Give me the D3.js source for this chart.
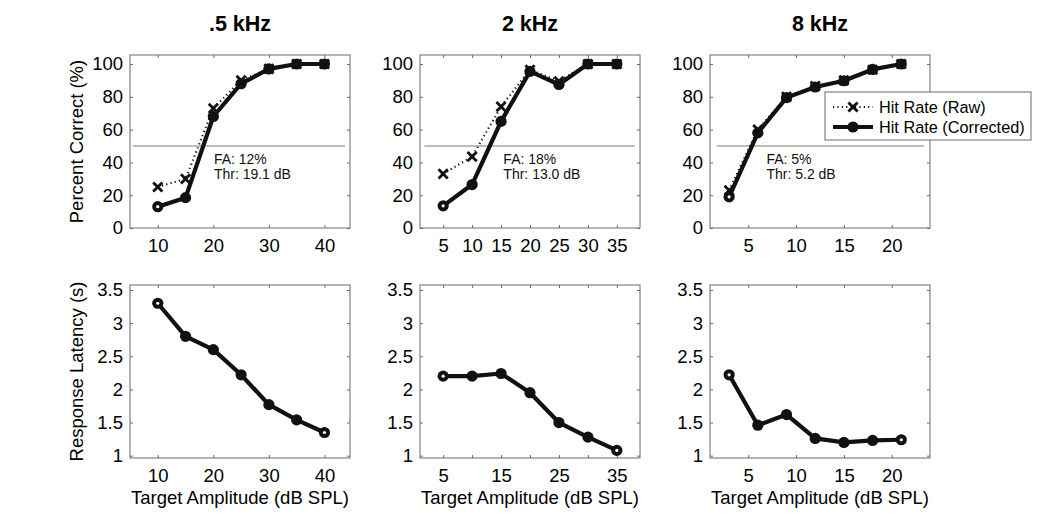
<!DOCTYPE html>
<html><head><meta charset="utf-8">
<script src="https://cdn.jsdelivr.net/npm/d3@7"></script>
<style>
html,body{margin:0;padding:0;background:#fff;}
svg{display:block;font-family:"Liberation Sans",Arial,Helvetica,sans-serif;}
</style></head>
<body><svg id="chart" width="1050" height="524"></svg>
<script>
// ---- data ----
const panelTitles = [".5 kHz", "2 kHz", "8 kHz"];
const amps05 = [10, 15, 20, 25, 30, 35, 40];
const amps2  = [5, 10, 15, 20, 25, 30, 35];
const amps8  = [3, 6, 9, 12, 15, 18, 21];
const rawHit05 = [25, 30, 73, 90, 97, 100, 100];
const corHit05 = [13, 18.5, 68, 88, 97, 100, 100];
const rawHit2  = [33, 43.5, 74, 96.5, 89.5, 100, 100];
const corHit2  = [13.5, 26.5, 65, 95.5, 87.5, 100, 100];
const rawHit8  = [23, 60, 80, 86.5, 90, 96.5, 100];
const corHit8  = [19, 58, 79.5, 86, 89.8, 96.7, 100];
const latency05 = [3.3, 2.8, 2.6, 2.22, 1.77, 1.54, 1.35];
const latency2  = [2.2, 2.2, 2.24, 1.95, 1.5, 1.28, 1.08];
const latency8  = [2.22, 1.46, 1.62, 1.26, 1.2, 1.23, 1.24];
const faText  = ["FA: 12%", "FA: 18%", "FA: 5%"];
const thrText = ["Thr: 19.1 dB", "Thr: 13.0 dB", "Thr: 5.2 dB"];
const xDomains = [[5, 44.6], [1, 39], [1, 24]];
const xTicks05 = [10, 20, 30, 40];
const xTicks2 = [5, 10, 15, 20, 25, 30, 35];
const xTicks2Bottom = [5, 15, 25, 35];
const xTicks8 = [5, 10, 15, 20];
const pctTicks = [0, 20, 40, 60, 80, 100];
const latTicks = [1, 1.5, 2, 2.5, 3, 3.5];
const annX = [20.1, 15.4, 6.9];
const annY = [39, 30];
const halfLineX = [[5.5, 43.7], [1.75, 38.1], [1.7, 23.4]];
const halfLineY = 50;
const legendLabels = ["Hit Rate (Raw)", "Hit Rate (Corrected)"];
const yLabels = ["Percent Correct (%)", "Response Latency (s)"];
const xLabel = "Target Amplitude (dB SPL)";

// ---- layout ----
const svg = d3.select("#chart");
const panelLeft = [130, 420, 710];
const panelW = 220;
const topRow = {y: 55, h: 173};
const botRow = {y: 285, h: 173};
const amps = [amps05, amps2, amps8];
const raws = [rawHit05, rawHit2, rawHit8];
const cors = [corHit05, corHit2, corHit8];
const lats = [latency05, latency2, latency8];
const xTickSetsTop = [xTicks05, xTicks2, xTicks8];
const xTickSetsAll = [xTicks05, xTicks2, xTicks8];
const xTickLabelsBottom = [xTicks05, xTicks2Bottom, xTicks8];

const boxColor = "#6a6a6a";
const fontTick = 18.5;

function drawPanel(i, row, yDomain, yTicks, series, xTickLabelSet, isTop) {
  const x = d3.scaleLinear().domain(xDomains[i]).range([panelLeft[i], panelLeft[i] + panelW]);
  const y = d3.scaleLinear().domain(yDomain).range([row.y + row.h, row.y]);
  const g = svg.append("g");
  const x0 = panelLeft[i], x1 = panelLeft[i] + panelW, y0 = row.y + row.h, y1 = row.y;

  g.append("rect").attr("x", x0).attr("y", y1).attr("width", panelW).attr("height", row.h)
    .attr("fill", "none").attr("stroke", boxColor).attr("stroke-width", 1);

  const tl = 3;
  const fmtX = d => xTickLabelSet.includes(d) ? String(d) : "";
  const axB = d3.axisBottom(x).tickValues(xTickSetsAll[i]).tickSizeInner(-tl).tickSizeOuter(0).tickFormat(fmtX).tickPadding(7);
  const gB = g.append("g").attr("transform", `translate(0,${y0})`).call(axB);
  const axT = d3.axisTop(x).tickValues(xTickSetsAll[i]).tickSizeInner(-tl).tickSizeOuter(0).tickFormat("");
  const gT = g.append("g").attr("transform", `translate(0,${y1})`).call(axT);
  const axL = d3.axisLeft(y).tickValues(yTicks).tickSizeInner(-tl).tickSizeOuter(0).tickFormat(d => String(d)).tickPadding(7);
  const gL = g.append("g").attr("transform", `translate(${x0},0)`).call(axL);
  const axR = d3.axisRight(y).tickValues(yTicks).tickSizeInner(-tl).tickSizeOuter(0).tickFormat("");
  const gR = g.append("g").attr("transform", `translate(${x1},0)`).call(axR);
  [gB, gT, gL, gR].forEach(a => {
    a.select(".domain").remove();
    a.selectAll(".tick line").attr("stroke", boxColor);
    a.selectAll(".tick text").attr("fill", "#000").attr("font-size", fontTick)
      .attr("font-family", "Liberation Sans, Arial, sans-serif");
  });
  gB.selectAll(".tick text").attr("dy", "0.9em");

  if (isTop) {
    g.append("line").attr("x1", x(halfLineX[i][0])).attr("x2", x(halfLineX[i][1]))
      .attr("y1", y(halfLineY)).attr("y2", y(halfLineY))
      .attr("stroke", "#7a7a7a").attr("stroke-width", 1.2);
    g.append("text").attr("x", x(annX[i])).attr("y", y(annY[0])).text(faText[i])
      .attr("font-size", 14).attr("fill", "#111");
    g.append("text").attr("x", x(annX[i])).attr("y", y(annY[1])).text(thrText[i])
      .attr("font-size", 14).attr("fill", "#111");
  }

  const xs = amps[i];
  const line = d3.line().x(d => x(d[0])).y(d => y(d[1]));
  if (series.raw) {
    const pts = xs.map((a, k) => [a, series.raw[k]]);
    g.append("path").attr("d", line(pts)).attr("fill", "none").attr("stroke", "#111")
      .attr("stroke-width", 2.2).attr("stroke-dasharray", "1.2,3.2");
    pts.forEach(p => drawX(g, x(p[0]), y(p[1]), 4.6));
  }
  const cpts = xs.map((a, k) => [a, series.cor[k]]);
  g.append("path").attr("d", line(cpts)).attr("fill", "none").attr("stroke", "#111")
    .attr("stroke-width", 4.2).attr("stroke-linejoin", "round");
  g.selectAll("circle.m").data(cpts).enter().append("circle").attr("class", "m")
    .attr("cx", d => x(d[0])).attr("cy", d => y(d[1])).attr("r", 5.6).attr("fill", "#111");
  cpts.forEach((p, k) => {
    const isEnd = (k === 0 || k === cpts.length - 1);
    const hidden = series.raw && series.raw[k] === series.cor[k];
    if (isEnd && !hidden) {
      g.append("circle").attr("cx", x(p[0])).attr("cy", y(p[1])).attr("r", 1.6).attr("fill", "#fff");
    }
  });
  return {x, y};
}

function drawX(g, cx, cy, s) {
  g.append("path").attr("d", `M${cx - s},${cy - s}L${cx + s},${cy + s}M${cx - s},${cy + s}L${cx + s},${cy - s}`)
    .attr("stroke", "#111").attr("stroke-width", 2.8).attr("fill", "none");
}

for (let i = 0; i < 3; i++) {
  drawPanel(i, topRow, [0, 105.5], pctTicks, {raw: raws[i], cor: cors[i]}, xTickSetsTop[i], true);
  drawPanel(i, botRow, [0.965, 3.575], latTicks, {cor: lats[i]}, xTickLabelsBottom[i], false);
  svg.append("text").attr("x", panelLeft[i] + panelW / 2).attr("y", 31).attr("text-anchor", "middle")
    .attr("font-size", 21.5).attr("font-weight", "bold").attr("fill", "#000").text(panelTitles[i]);
  svg.append("text").attr("x", panelLeft[i] + panelW / 2).attr("y", 504).attr("text-anchor", "middle")
    .attr("font-size", 18.5).attr("fill", "#000").text(xLabel);
}
[[topRow, yLabels[0]], [botRow, yLabels[1]]].forEach(([row, lab]) => {
  svg.append("text").attr("transform", `translate(83,${row.y + row.h / 2}) rotate(-90)`)
    .attr("text-anchor", "middle").attr("font-size", 18.5).attr("fill", "#000").text(lab);
});

// legend
const lg = svg.append("g");
lg.append("rect").attr("x", 825).attr("y", 92).attr("width", 206).attr("height", 48)
  .attr("fill", "#fff").attr("stroke", boxColor).attr("stroke-width", 1);
const ly = [107, 127];
lg.append("line").attr("x1", 833).attr("x2", 873).attr("y1", ly[0]).attr("y2", ly[0])
  .attr("stroke", "#111").attr("stroke-width", 2.2).attr("stroke-dasharray", "1.2,3.2");
drawX(lg, 853, ly[0], 4.6);
lg.append("line").attr("x1", 833).attr("x2", 873).attr("y1", ly[1]).attr("y2", ly[1])
  .attr("stroke", "#111").attr("stroke-width", 4.2);
lg.append("circle").attr("cx", 853).attr("cy", ly[1]).attr("r", 5.6).attr("fill", "#111");
legendLabels.forEach((t, k) => {
  lg.append("text").attr("x", 879).attr("y", ly[k] + 6).attr("font-size", 16.3).attr("fill", "#000").text(t);
});
</script>
</body></html>
